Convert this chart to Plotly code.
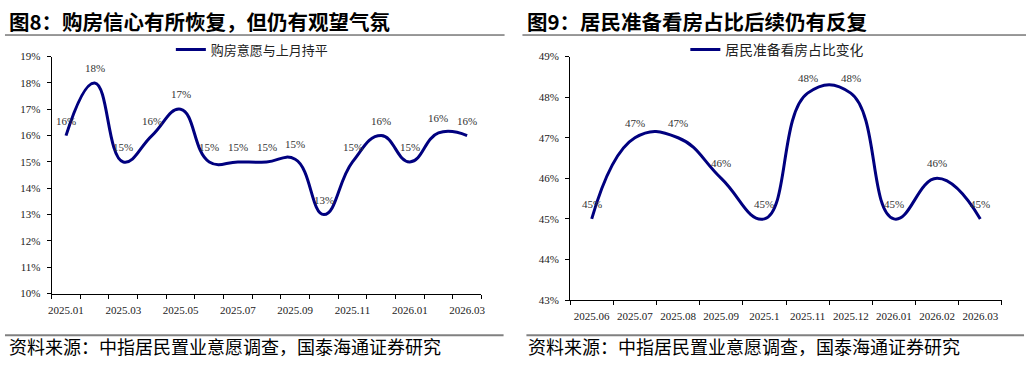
import plotly.graph_objects as go

# ---- data ----
months_left = ["2025.01", "2025.02", "2025.03", "2025.04", "2025.05", "2025.06", "2025.07",
               "2025.08", "2025.09", "2025.10", "2025.11", "2025.12", "2026.01", "2026.02", "2026.03"]
buy_same_as_last_month = [16.0, 18.0, 15.0, 16.0, 17.0, 15.0, 15.0, 15.0, 15.1, 13.0, 15.0, 16.0, 15.0, 16.1, 16.0]

months_right = ["2025.06", "2025.07", "2025.08", "2025.09", "2025.1", "2025.11", "2025.12",
                "2026.01", "2026.02", "2026.03"]
view_share_change = [45.0, 47.0, 47.0, 46.0, 45.0, 48.1, 48.1, 45.0, 46.0, 45.0]

title_left = "图8：购房信心有所恢复，但仍有观望气氛"
title_right = "图9：居民准备看房占比后续仍有反复"
source_text = "资料来源：中指居民置业意愿调查，国泰海通证券研究"
legend_left = "购房意愿与上月持平"
legend_right = "居民准备看房占比变化"

W, H = 1032, 367
LINE = "#00007F"
SERIF = "Liberation Serif, Times New Roman, serif"
CJK = "Noto Sans CJK SC"

def px(x):
    return x / W

def py(y):
    return 1 - y / H

fig = go.Figure()

xl = list(range(len(months_left)))
xr = list(range(len(months_right)))

fig.add_trace(go.Scatter(
    x=xl, y=buy_same_as_last_month, mode="lines", name=legend_left,
    line=dict(color=LINE, width=3, shape="spline", smoothing=1.3),
    xaxis="x", yaxis="y", legend="legend"))

fig.add_trace(go.Scatter(
    x=xr, y=view_share_change, mode="lines", name=legend_right,
    line=dict(color=LINE, width=3, shape="spline", smoothing=1.3),
    xaxis="x2", yaxis="y2", legend="legend2"))

axis_common = dict(showline=True, linecolor="black", linewidth=1, showgrid=False,
                   zeroline=False, tickfont=dict(family=SERIF, size=11, color="#222222"))

fig.update_layout(
    width=W, height=H, margin=dict(l=0, r=0, t=0, b=0),
    paper_bgcolor="white", plot_bgcolor="white",
    xaxis=dict(domain=[px(49), px(481.7)], range=[-0.5, len(months_left) - 0.5],
               tickmode="array", tickvals=xl[::2], ticktext=months_left[::2], ticks="",
               ticklabelstandoff=6,
               minor=dict(ticks="outside", ticklen=4, tick0=-0.5, dtick=1, tickcolor="black", showgrid=False),
               anchor="y", **axis_common),
    yaxis=dict(domain=[py(297.3), py(52.3)], range=[10, 19], dtick=1, ticksuffix="%",
               ticks="outside", ticklen=4, tickcolor="black", anchor="x", ticklabelstandoff=4,
               **axis_common),
    xaxis2=dict(domain=[px(571), px(1005.7)], range=[-0.5, len(months_right) - 0.5],
                tickmode="array", tickvals=xr, ticktext=months_right, ticks="",
                ticklabelstandoff=6,
                minor=dict(ticks="outside", ticklen=4, tick0=-0.5, dtick=1, tickcolor="black", showgrid=False),
                anchor="y2", **axis_common),
    yaxis2=dict(domain=[py(304), py(52.3)], range=[43, 49], dtick=1, ticksuffix="%",
                ticks="outside", ticklen=4, tickcolor="black", anchor="x2", ticklabelstandoff=4,
                **axis_common),
    legend=dict(x=px(169), y=py(45), xanchor="left", yanchor="middle", bgcolor="rgba(0,0,0,0)",
                font=dict(family=CJK, size=13, color="#222222")),
    legend2=dict(x=px(687), y=py(45), xanchor="left", yanchor="middle", bgcolor="rgba(0,0,0,0)",
                 font=dict(family=CJK, size=13.8, color="#222222")),
    showlegend=True,
)

annotations = [
    dict(text=f"<b>{title_left}</b>", x=px(4), y=py(16), xanchor="left", yanchor="middle",
         font=dict(family=CJK, size=20.5, color="black")),
    dict(text=f"<b>{title_right}</b>", x=px(526), y=py(16), xanchor="left", yanchor="middle",
         font=dict(family=CJK, size=20.5, color="black")),
    dict(text=source_text, x=px(4), y=py(352), xanchor="left", yanchor="middle",
         font=dict(family=CJK, size=18, color="black")),
    dict(text=source_text, x=px(527), y=py(352), xanchor="left", yanchor="middle",
         font=dict(family=CJK, size=18, color="black")),
]
for a in annotations:
    a.update(xref="paper", yref="paper", showarrow=False)

label_font = dict(family=SERIF, size=11, color="#333333")
for i, v in zip(xl, buy_same_as_last_month):
    annotations.append(dict(text=f"{v:.0f}%", x=i, y=v, xref="x", yref="y", yshift=15,
                            showarrow=False, font=label_font))
for i, v in zip(xr, view_share_change):
    annotations.append(dict(text=f"{v:.0f}%", x=i, y=v, xref="x2", yref="y2", yshift=15,
                            showarrow=False, font=label_font))
fig.update_layout(annotations=annotations)

shapes = [
    dict(x0=px(2), x1=px(505), y0=py(30), y1=py(30), line=dict(color="#333333", width=1)),
    dict(x0=px(523), x1=px(1030), y0=py(30), y1=py(30), line=dict(color="#333333", width=1)),
    dict(x0=px(2), x1=px(504), y0=py(340.5), y1=py(340.5), line=dict(color="#808080", width=2)),
    dict(x0=px(527), x1=px(1028), y0=py(340.5), y1=py(340.5), line=dict(color="#808080", width=2)),
]
for s in shapes:
    s.update(type="line", xref="paper", yref="paper")
fig.update_layout(shapes=shapes)

fig.write_html("out.html")
